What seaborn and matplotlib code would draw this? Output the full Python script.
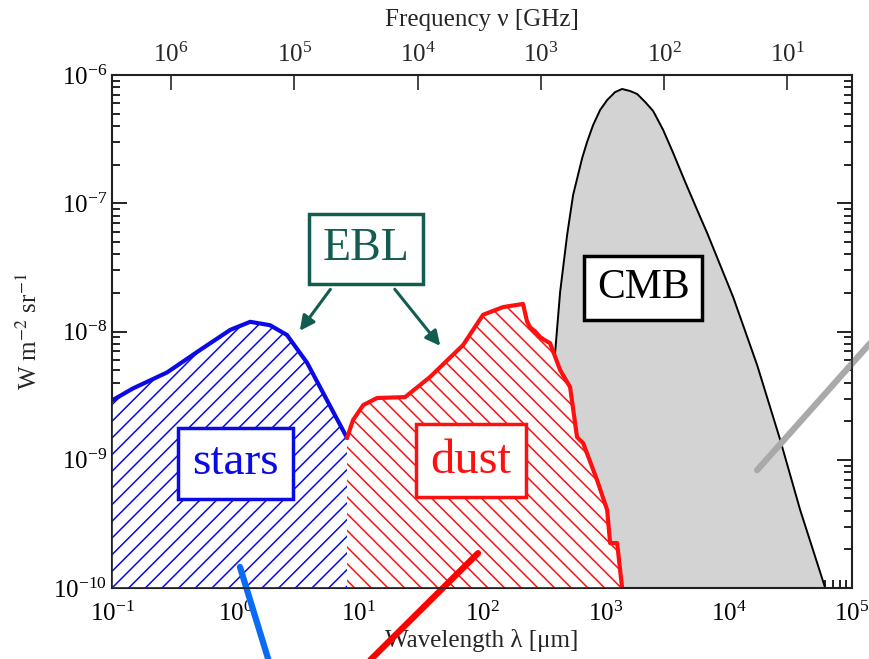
import matplotlib
matplotlib.use("Agg")
import matplotlib.pyplot as plt
from matplotlib.ticker import NullLocator
import seaborn as sns

# wavelength [um] / nu I_nu [W m^-2 sr^-1]
stars_wl = [0.1, 0.148, 0.28, 0.52, 0.91, 1.32, 1.91, 2.62, 3.82, 5.55, 8.05]
stars_flux = [2.9e-9, 3.6e-9, 4.8e-9, 7.2e-9, 1.03e-8, 1.19e-8, 1.12e-8,
              9.4e-9, 5.7e-9, 2.9e-9, 1.48e-9]

dust_wl = [8.05, 9.0, 10.9, 14.1, 23.8, 37.9, 70.3, 102, 148, 215, 232, 245,
           270, 296, 320, 356, 430, 518, 590, 661, 857, 1035, 1094, 1247, 1368]
dust_flux = [1.48e-9, 2.04e-9, 2.67e-9, 3.03e-9, 3.08e-9, 4.42e-9, 7.85e-9,
             1.35e-8, 1.55e-8, 1.64e-8, 1.2e-8, 1.08e-8, 1.0e-8, 9.06e-9,
             8.6e-9, 8.13e-9, 5.01e-9, 3.69e-9, 1.50e-9, 1.35e-9, 6.95e-10,
             4.06e-10, 2.24e-10, 2.24e-10, 1.0e-10]

cmb_wl = [280, 300, 340, 392, 430, 490, 548, 649, 711, 796, 907, 1035, 1200,
          1368, 1589, 1811, 2104, 2443, 2944, 3548, 4436, 5559, 6699, 10870,
          17020, 26180, 38020, 60700, 70000]
cmb_flux = [8e-11, 3e-10, 2.0e-9, 6.92e-9, 2.03e-8, 5.65e-8, 1.16e-7, 2.25e-7,
            3.0e-7, 4.07e-7, 5.33e-7, 6.38e-7, 7.36e-7, 7.78e-7, 7.5e-7,
            7.11e-7, 6.16e-7, 5.24e-7, 3.73e-7, 2.47e-7, 1.47e-7, 8.85e-8,
            5.86e-8, 1.86e-8, 5.48e-9, 1.43e-9, 4.06e-10, 1.0e-10, 6e-11]

# label boxes: text, wavelength, flux, font size
labels = ["stars", "dust", "CMB", "EBL"]
label_wl = [1.01, 81.7, 2028, 11.5]
label_flux = [9.4e-10, 9.8e-10, 2.18e-8, 4.4e-8]
label_size = [34, 35, 30, 33]

# EBL arrows (start -> end)
arrow_start_wl = [6.08, 19.0]
arrow_start_flux = [2.22e-8, 2.22e-8]
arrow_end_wl = [3.23, 47.4]
arrow_end_flux = [9.73e-9, 7.43e-9]

# stray pen strokes over the picture
blue_stroke_wl = [1.09, 1.99]
blue_stroke_flux = [1.46e-10, 2.21e-11]
red_stroke_wl = [92.9, 9.89]
red_stroke_flux = [1.87e-10, 2.21e-11]
gray_stroke_wl = [17000, 1.69e5]
gray_stroke_flux = [8.3e-10, 9.9e-9]

sns.set_theme(style="ticks")
plt.rcParams["font.family"] = ["Liberation Serif", "DejaVu Serif"]
plt.rcParams["mathtext.fontset"] = "stix"
plt.rcParams["hatch.linewidth"] = 1.1

blue = "#0a0ae6"
red = "#ff1010"
teal = "#135c50"

fig = plt.figure(figsize=(8.69, 6.59), dpi=100)
ax = fig.add_axes([0.1289, 0.1077, 0.8515, 0.7785])
ax.set_xscale("log")
ax.set_yscale("log")
ax.set_xlim(0.1, 1e5)
ax.set_ylim(1e-10, 1e-6)

ax.fill_between(cmb_wl, cmb_flux, 1e-12, facecolor="#d3d3d3", edgecolor="none", zorder=1)
sns.lineplot(x=cmb_wl, y=cmb_flux, color="black", lw=1.4, ax=ax, zorder=2)

ax.fill_between(stars_wl, stars_flux, 1e-12, facecolor="white", edgecolor=blue,
                hatch="//", lw=0, zorder=3)
ax.fill_between(dust_wl, dust_flux, 1e-12, facecolor="white", edgecolor=red,
                hatch="\\\\", lw=0, zorder=3)
sns.lineplot(x=stars_wl, y=stars_flux, color=blue, lw=3, ax=ax, zorder=4)
sns.lineplot(x=dust_wl, y=dust_flux, color=red, lw=3, ax=ax, zorder=4)

colors = [blue, red, "black", teal]
for txt, x, y, c, fs in zip(labels, label_wl, label_flux, colors, label_size):
    ax.text(x, y, txt, color=c, fontsize=fs, ha="center", va="center", zorder=6,
            bbox=dict(boxstyle="square,pad=0.3", fc="white", ec=c, lw=2.5))

for x0, y0, x1, y1 in zip(arrow_start_wl, arrow_start_flux, arrow_end_wl, arrow_end_flux):
    ax.annotate("", xy=(x1, y1), xytext=(x0, y0), zorder=6,
                arrowprops=dict(arrowstyle="-|>", color=teal, lw=2.2, mutation_scale=22))

ax.tick_params(which="both", direction="in", right=True, top=False, width=1.2,
               colors="black", labelsize=18)
ax.tick_params(axis="x", which="both", pad=10)
ax.tick_params(which="major", length=11)
ax.tick_params(which="minor", length=6)
for s in ax.spines.values():
    s.set_linewidth(1.5)
    s.set_color("black")
ax.set_xlabel("Wavelength λ [μm]", fontsize=18, labelpad=2)
ax.set_ylabel("W m$^{-2}$ sr$^{-1}$", fontsize=18, labelpad=8)

ax2 = ax.twiny()
ax2.set_xscale("log")
ax2.set_xlim(3e5 / 0.1, 3e5 / 1e5)
ax2.xaxis.set_minor_locator(NullLocator())
ax2.tick_params(direction="in", length=11, width=1.2, labelsize=18, pad=6)
ax2.set_xlabel("Frequency ν [GHz]", fontsize=18, labelpad=12)

ax.plot(blue_stroke_wl, blue_stroke_flux, color="#0a6cf5", lw=4.5, clip_on=False, zorder=10)
ax.plot(red_stroke_wl, red_stroke_flux, color="#ff0000", lw=4.5, clip_on=False, zorder=10)
ax.plot(gray_stroke_wl, gray_stroke_flux, color="#a9a9a9", lw=4.5, clip_on=False, zorder=10)

fig.savefig("out.png", dpi=100)
